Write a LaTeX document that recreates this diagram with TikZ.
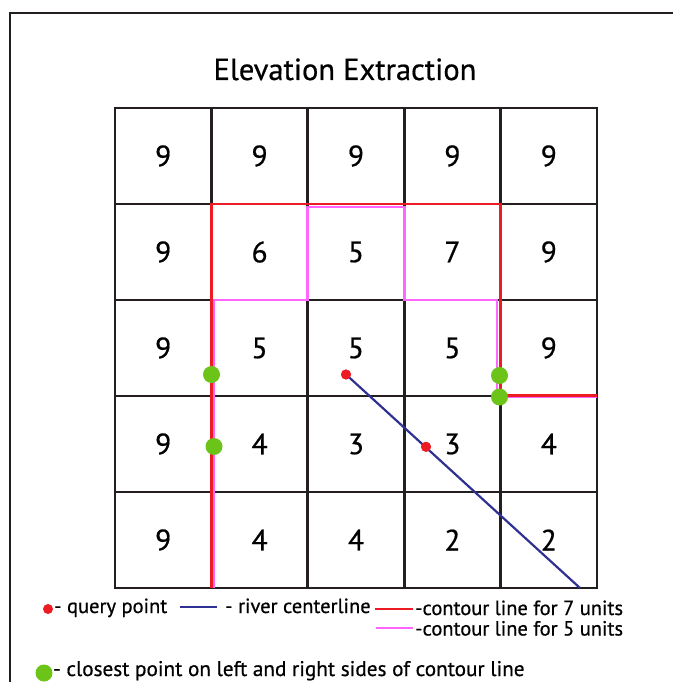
\documentclass[tikz,border=0pt]{standalone}
\usepackage{fontspec}
\setmainfont{PT Sans}[FakeBold=0.6]
\definecolor{gridc}{RGB}{35,31,32}
\definecolor{redc}{RGB}{237,28,36}
\definecolor{pinkc}{RGB}{255,102,255}
\definecolor{navyc}{RGB}{46,49,146}
\definecolor{greenc}{RGB}{108,196,24}
\tikzset{
  cell/.style={draw=gridc, line width=2.8pt, minimum width=96.4pt, minimum height=96pt,
    inner sep=0pt, outer sep=0pt, font=\fontsize{29.5}{32}\selectfont},
  contseven/.style={draw=redc, line width=2.7pt},
  contfive/.style={draw=pinkc, line width=2.7pt},
  river/.style={draw=navyc, line width=2.2pt},
  qdot/.style={circle, fill=redc, minimum size=10pt, inner sep=0pt},
  gdot/.style={circle, fill=greenc, minimum size=17pt, inner sep=0pt},
  legtext/.style={anchor=base west, inner sep=0pt, font=\fontsize{20.5}{23}\selectfont},
  frame/.style={draw=gridc, line width=2.8pt}
}
\begin{document}
\begin{tikzpicture}[x=1pt,y=-1pt]
\useasboundingbox (0,0) rectangle (672,682);
\draw[frame] (10,700) -- (10,13) -- (700,13);
\node[anchor=base, inner sep=0pt, font=\fontsize{30.5}{34}\selectfont] (title) at (345,80) {Elevation Extraction};
\foreach \row [count=\r] in {{9,9,9,9,9},{9,6,5,7,9},{9,5,5,5,9},{9,4,3,3,4},{9,4,4,2,2}} {
  \foreach \v [count=\c] in \row {
    \node[cell] (c\r\c) at ({115+(\c-0.5)*96.4},{108+(\r-0.5)*96}) {\v};
  }
}
% contour for 5 units
\draw[contfive] ([xshift=2.5pt]c52.south west) -- ([xshift=2.5pt]c32.north west) -- (c32.north east)
  -- ([yshift=-3pt]c23.north west) -- ([yshift=-3pt]c23.north east) -- (c23.south east)
  -- ([xshift=-3.5pt]c34.north east) -- ([xshift=-3.5pt,yshift=-1pt]c34.south east)
  -- ([yshift=-1pt]c35.south east);
% contour for 7 units
\draw[contseven] (c52.south west) -- (c22.north west) -- (c24.north east)
  -- ([yshift=0.8pt]c34.south east) -- ([yshift=0.8pt]c35.south east);
% river
\coordinate (rend) at (580,588);
\node[qdot] (q1) at (346,374.5) {};
\node[qdot] (q2) at (426,446.8) {};
\draw[river] (q1.center) -- (rend);
\node[qdot] at (q1) {};
\node[qdot] at (q2) {};
% closest points
\node[gdot] (g1) at (211.5,374.5) {};
\node[gdot] (g2) at (214,446.5) {};
\node[gdot] (g3) at (499.5,375.5) {};
\node[gdot] (g4) at (499.5,397) {};
% legend
\node[qdot] (lq) at (48,609) {};
\node[legtext] (lqt) at (54,613) {- query point};
\coordinate (lr1) at (180,607);
\coordinate (lr2) at (217,607);
\draw[river] (lr1) -- (lr2);
\node[legtext] (lrt) at (225,613) {- river centerline};
\coordinate (ls1) at (375,609);
\coordinate (ls2) at (413,609);
\draw[contseven] (ls1) -- (ls2);
\node[legtext, text depth=0pt] (lst) at (415,615) {-contour line for 7 units};
\coordinate (lf1) at (376,628);
\coordinate (lf2) at (413,628);
\draw[contfive] (lf1) -- (lf2);
\node[legtext, text height=14pt] (lft) at (415,635.5) {-contour line for 5 units};
\node[gdot] (lg) at (44,673) {};
\node[legtext, font=\fontsize{21.2}{24}\selectfont] (lgt) at (53,676) {- closest point on left and right sides of contour line};
\end{tikzpicture}
\end{document}
